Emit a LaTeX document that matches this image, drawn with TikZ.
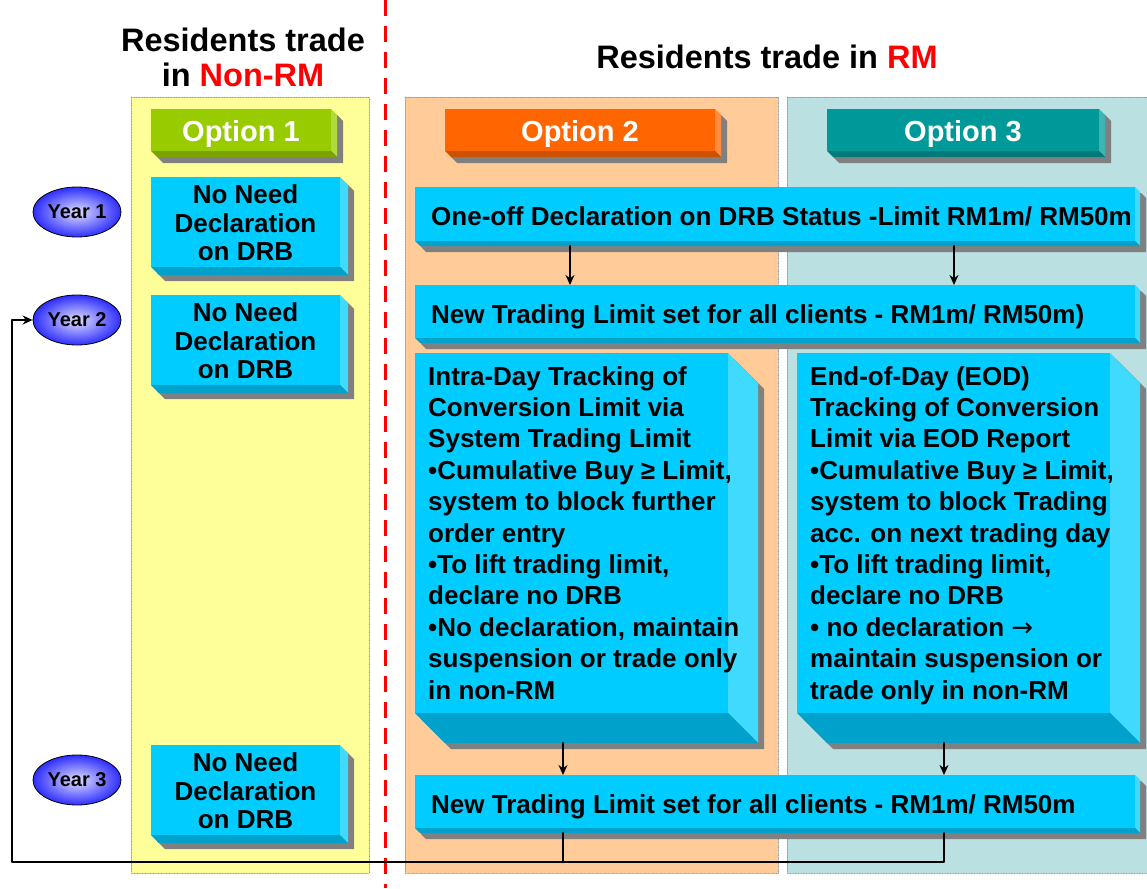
\documentclass[tikz,border=0pt]{standalone}
\usepackage{fontspec}
\setmainfont{Liberation Sans}
\newfontfamily\arrowfont{DejaVu Sans}
\usetikzlibrary{shapes.geometric,arrows.meta}
% bevel colours: F = face, L = light right side, D = dark bottom side
\definecolor{cyF}{HTML}{00CCFF}
\definecolor{cyL}{HTML}{40DAFF}
\definecolor{cyD}{HTML}{00A2CC}
\definecolor{grF}{HTML}{99CC00}
\definecolor{grL}{HTML}{B0D940}
\definecolor{grD}{HTML}{7AA300}
\definecolor{orF}{HTML}{FF6600}
\definecolor{orL}{HTML}{FF8C40}
\definecolor{orD}{HTML}{CC5200}
\definecolor{tlF}{HTML}{009999}
\definecolor{tlL}{HTML}{40B3B3}
\definecolor{tlD}{HTML}{007A7A}
\definecolor{shadowgrey}{HTML}{808080}
\definecolor{colyellow}{HTML}{FFFF99}
\definecolor{colpeach}{HTML}{FFCC99}
\definecolor{colteal}{HTML}{BAE0E2}
\definecolor{yearblue}{HTML}{2E2EFF}
\begin{document}
\begin{tikzpicture}[x=1pt, y=-1pt, line cap=round, line join=round, >={Stealth[length=10pt,width=9pt]},
		boxarea/.style={inner sep=0pt, outer sep=0pt},
		colbg/.style={draw=gray!80, densely dotted, line width=0.6pt},
		titletext/.style={font=\fontsize{32.5}{35}\selectfont\bfseries, align=center},
		opttext/.style={font=\fontsize{29}{32}\selectfont\bfseries, text=white},
		nonetext/.style={font=\fontsize{26}{28.5}\selectfont\bfseries, align=center, inner sep=0pt},
		linetext/.style={font=\fontsize{26}{31.4}\selectfont\bfseries, inner sep=0pt, anchor=base west},
		bodytext/.style={font=\fontsize{26}{31.4}\selectfont\bfseries, align=left, inner sep=0pt, anchor=north west},
		yearell/.style={ellipse, draw=black, line width=0.8pt, minimum width=88pt, minimum height=50pt, inner sep=0pt,
			shading=radial, inner color=white!85!yearblue, outer color=yearblue, font=\fontsize{20}{22}\selectfont\bfseries},
		link/.style={line width=2.8pt}]
	% Bevelled box: name, x1, y1, x2, y2, bevel, colour
	\def\bevbox#1#2#3#4#5#6#7{%
		\fill[shadowgrey] (#2+6,#3+6) -- (#4-#6+6,#3+6) -- (#4+6,#3+#6+6) -- (#4+6,#5+6) -- (#2+#6+6,#5+6) -- (#2+6,#5-#6+6) -- cycle;
		\fill[#7L] (#4-#6,#3) -- (#4,#3+#6) -- (#4,#5) -- (#4-#6,#5-#6) -- cycle;
		\fill[#7D] (#2,#5-#6) -- (#4-#6,#5-#6) -- (#4,#5) -- (#2+#6,#5) -- cycle;
		\fill[#7F] (#2,#3) rectangle (#4-#6,#5-#6);
		\node[boxarea, minimum width=#4pt-#2pt, minimum height=#5pt-#3pt] (#1) at ({(#2+#4)/2},{(#3+#5)/2}) {};
	}
	\useasboundingbox (0,0) rectangle (1147,888);
	
	% Column backgrounds
	\fill[colyellow] (131,97) rectangle (369,873);
	\draw[colbg] (131,97) rectangle (369,873);
	\fill[colpeach] (405,97) rectangle (778,873);
	\draw[colbg] (405,97) rectangle (778,873);
	\fill[colteal] (787,97) rectangle (1150,873);
	\draw[colbg] (787,97) rectangle (1150,873);
	
	% Dividing line
	\draw[red, line width=3pt, line cap=butt, dash pattern=on 16pt off 10pt] (385,0) -- (385,888);
	
	% Headings
	\node[titletext] (hNonRM) at (243,57) {Residents trade\\in \textcolor{red}{Non-RM}};
	\node[titletext] (hRM) at (767,57) {Residents trade in \textcolor{red}{RM}};
	
	% Option boxes
	\bevbox{opt1}{151}{109}{337}{157}{6}{gr}
	\bevbox{opt2}{445}{109}{721}{157}{6}{or}
	\bevbox{opt3}{827}{109}{1105}{157}{6}{tl}
	\node[opttext] (opt1t) at (241,134) {Option 1};
	\node[opttext] (opt2t) at (580,134) {Option 2};
	\node[opttext] (opt3t) at (963,134) {Option 3};
	
	% Option 1: no declaration
	\bevbox{none1}{151}{177}{348}{275}{8}{cy}
	\bevbox{none2}{151}{295}{348}{393}{8}{cy}
	\bevbox{none3}{151}{745}{348}{843}{8}{cy}
	\node[nonetext] (none1t) at (245.5,223) {No Need\\Declaration\\on DRB};
	\node[nonetext] (none2t) at (245.5,341) {No Need\\Declaration\\on DRB};
	\node[nonetext] (none3t) at (245.5,791) {No Need\\Declaration\\on DRB};
	
	% Options 2 and 3
	\bevbox{oneoff}{415}{187}{1140}{246}{5}{cy}
	\bevbox{limA}{415}{285}{1140}{343}{5}{cy}
	\bevbox{intra}{415}{353}{758}{743}{30}{cy}
	\bevbox{eod}{797}{353}{1140}{743}{30}{cy}
	\bevbox{limB}{415}{775}{1140}{833}{5}{cy}
	\node[linetext] (oneofft) at (431,225) {One-off Declaration on DRB Status -Limit RM1m/ RM50m};
	\node[linetext] (limAt) at (431,323) {New Trading Limit set for all clients - RM1m/ RM50m)};
	\node[linetext] (limBt) at (431,813) {New Trading Limit set for all clients - RM1m/ RM50m};
	\node[bodytext] (intrat) at (428,366) {Intra-Day Tracking of\\Conversion Limit via\\System Trading Limit\\%
		•Cumulative Buy ≥ Limit,\\system to block further\\order entry\\•To lift trading limit,\\declare no DRB\\%
		•No declaration, maintain\\suspension or trade only\\in non-RM};
	\node[bodytext] (eodt) at (810,366) {End-of-Day (EOD)\\Tracking of Conversion\\Limit via EOD Report\\%
		•Cumulative Buy ≥ Limit,\\system to block Trading\\acc. on next trading day\\•To lift trading limit,\\declare no DRB\\%
		• no declaration {\arrowfont\mdseries →}\\maintain suspension or\\trade only in non-RM};
	
	% Years
	\node[yearell] (y1) at (77,212) {Year 1};
	\node[yearell] (y2) at (77,320) {Year 2};
	\node[yearell] (y3) at (77,780) {Year 3};
	
	% Flow arrows
	\draw[link, ->] (oneoff.south -| 570,0) -- (limA.north -| 570,0);
	\draw[link, ->] (oneoff.south -| 954,0) -- (limA.north -| 954,0);
	\draw[link, ->] (intra.south -| 563,0) -- (limB.north -| 563,0);
	\draw[link, ->] (eod.south -| 944,0) -- (limB.north -| 944,0);
	
	% Loop back to year 2
	\coordinate (loopL) at (563,862);
	\coordinate (loopR) at (944,862);
	\coordinate (loopC) at (12,862);
	\draw[link] (limB.south -| loopL) -- (loopL);
	\draw[link, ->] (limB.south -| loopR) -- (loopR) -- (loopC) |- (y2.west);
\end{tikzpicture}
\end{document}
